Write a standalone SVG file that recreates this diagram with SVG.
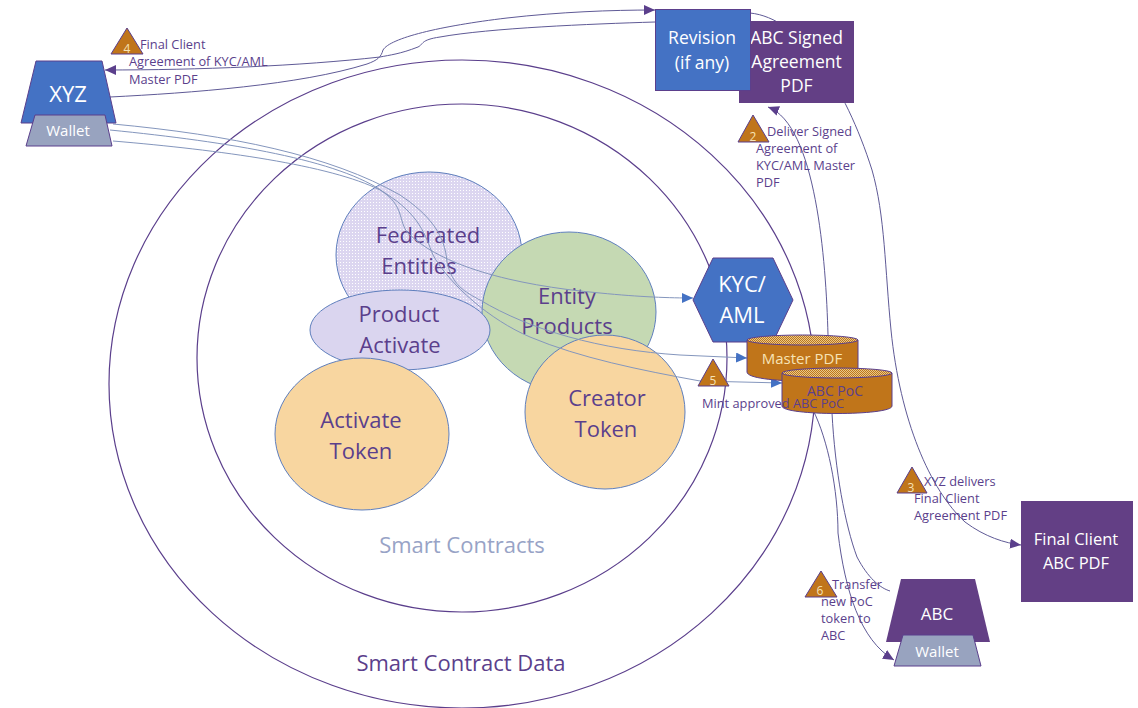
<svg xmlns="http://www.w3.org/2000/svg" width="1138" height="708" viewBox="0 0 1138 708">
<style>
text{font-family:"Open Sans","Noto Sans","Liberation Sans",sans-serif}
.ring{fill:none;stroke:#5b3f8c;stroke-width:1.2}
.c{fill:none;stroke:#5f5a96;stroke-width:1}
.w{fill:none;stroke:#8496bd;stroke-width:1}
.blob{stroke:#5f7fbd;stroke-width:1}
.big{font-size:22px;fill:#5b3f8c;text-anchor:middle}
.wht{font-size:19px;fill:#fff;text-anchor:middle}
.lab{font-size:12.800px;fill:#5b3f8c}
.num{font-size:12px;fill:#f7e3b5;text-anchor:middle}
.tri{fill:#c0751a;stroke:#5b3f8c;stroke-width:1}
.cyl{fill:#c0751a;stroke:#5b3f8c;stroke-width:1}
.wal{fill:#98a3bf;stroke:#5b3f8c;stroke-width:1}
</style>
<defs>
<pattern id="stip" width="3" height="3" patternUnits="userSpaceOnUse"><rect width="3" height="3" fill="#dcd6f0"/><rect x="1" y="1" width="1" height="1" fill="#fff"/></pattern>
<pattern id="chk" width="2" height="2" patternUnits="userSpaceOnUse"><rect width="2" height="2" fill="#e6c98a"/><rect width="1" height="1" fill="#c0751a"/><rect x="1" y="1" width="1" height="1" fill="#c0751a"/></pattern>
<marker id="ap" markerUnits="userSpaceOnUse" markerWidth="12" markerHeight="10" refX="11" refY="5" orient="auto"><path d="M0,0L11,5L0,10Z" fill="#5b3f8c"/></marker>
<marker id="ab" markerUnits="userSpaceOnUse" markerWidth="12" markerHeight="10" refX="11" refY="5" orient="auto"><path d="M0,0L11,5L0,10Z" fill="#4472c4"/></marker>
</defs>
<rect width="1138" height="708" fill="#fff"/>
<g id="smart-contract-data"><ellipse class="ring" cx="462" cy="384" rx="353" ry="324"/><text class="big" x="461" y="671">Smart Contract Data</text></g>
<g id="smart-contracts"><ellipse class="ring" cx="462" cy="358" rx="265" ry="254"/><text class="big" x="462" y="553" style="fill:#98a3c6">Smart Contracts</text></g>
<g id="federated-entities"><ellipse class="blob" cx="429" cy="255" rx="93" ry="83" fill="url(#stip)"/><text class="big"><tspan x="428" y="243">Federated</tspan><tspan x="419" y="274">Entities</tspan></text></g>
<g id="entity-products"><ellipse class="blob" cx="569" cy="312" rx="87" ry="80" fill="#c5d9b3"/><text class="big"><tspan x="567" y="304">Entity</tspan><tspan x="567" y="334">Products</tspan></text></g>
<g id="product-activate"><ellipse class="blob" cx="400" cy="330" rx="90" ry="40" fill="#dad5ef"/><text class="big"><tspan x="399" y="322">Product</tspan><tspan x="400" y="353">Activate</tspan></text></g>
<g id="activate-token"><ellipse class="blob" cx="362" cy="434" rx="87" ry="76" fill="#f8d6a0"/><text class="big"><tspan x="361" y="428">Activate</tspan><tspan x="361" y="459">Token</tspan></text></g>
<g id="creator-token"><ellipse class="blob" cx="605" cy="412" rx="80" ry="77" fill="#f8d6a0"/><text class="big"><tspan x="607" y="406">Creator</tspan><tspan x="606" y="437">Token</tspan></text></g>
<g id="connectors">
<path class="c" marker-end="url(#ap)" d="M110,97C190,93 300,85 367,64C378,60 381,57 383,50C390,38 440,26 507,18C560,12 610,10 655,10"/>
<path class="c" marker-end="url(#ap)" d="M655,22C590,24 490,28 440,37C420,40 424,44 418,47C400,54 390,55 380,57C300,66 200,70 105,70"/>
<path class="c" marker-end="url(#ap)" d="M750,13C800,18 845,85 872,170C885,215 885,270 891,330C900,420 930,490 965,522C985,537 1005,543 1021,545"/>
<path class="c" marker-end="url(#ap)" d="M828,335C826,260 816,125 768,107"/>
<path class="w" marker-end="url(#ab)" d="M113,141C220,150 330,165 380,190C405,205 398,222 408,233C440,265 510,285 600,293C640,297 670,298 693,298"/>
<path class="w" marker-end="url(#ab)" d="M113,124C230,135 330,155 400,195C430,215 445,235 447,262C452,285 465,292 480,300C530,330 600,350 680,355L747,358"/>
<path class="w" marker-end="url(#ab)" d="M110,130C230,142 340,160 385,193C420,215 425,235 433,255C450,285 490,320 530,337C580,358 640,370 700,381L782,383"/>
<path class="c" marker-end="url(#ap)" d="M813,410C828,440 838,490 838,533C845,590 860,640 894,660"/>
<path class="c" d="M832,413C835,470 845,525 857,557C868,578 880,588 890,591"/>
</g>
<g id="xyz"><path d="M36,61H102L116,123H21Z" fill="#4472c4" stroke="#5b3f8c"/><text class="wht" x="68" y="102" style="font-size:22px">XYZ</text></g>
<g id="xyz-wallet"><path class="wal" d="M35,115H105L112,146H26Z"/><text x="68" y="136" style="font-size:15px;fill:#fff;text-anchor:middle">Wallet</text></g>
<g id="abc-signed"><rect x="739" y="21" width="115" height="82" fill="#633f85"/><text class="wht" style="font-size:17.500px"><tspan x="796.500" y="44">ABC Signed</tspan><tspan x="796.500" y="68">Agreement</tspan><tspan x="796.500" y="92">PDF</tspan></text></g>
<g id="revision"><rect x="655.500" y="9.500" width="95" height="81" fill="#4472c4" stroke="#5b3f8c"/><text class="wht" style="font-size:17.500px"><tspan x="702" y="44">Revision</tspan><tspan x="702" y="69">(if any)</tspan></text></g>
<g id="kyc"><path d="M693,300L713,258H773L793,300L773,342H713Z" fill="#4472c4" stroke="#5b3f8c"/><text class="wht" style="font-size:22px"><tspan x="742" y="292">KYC/</tspan><tspan x="742" y="323">AML</tspan></text></g>
<g id="master-pdf"><path class="cyl" d="M747,340V372C747,384 858,384 858,372V340Z"/><ellipse cx="802.500" cy="340" rx="55.500" ry="5" fill="url(#chk)" stroke="#5b3f8c"/><text x="802" y="364" style="font-size:15px;fill:#f7e3b5;text-anchor:middle">Master PDF</text></g>
<g id="abc-poc"><path class="cyl" d="M782,373V406C782,416 892,416 892,406V373Z"/><ellipse cx="837" cy="373" rx="55" ry="5" fill="url(#chk)" stroke="#5b3f8c"/><text x="835" y="396" style="font-size:14px;fill:#5b3f8c;text-anchor:middle">ABC PoC</text></g>
<g id="final-client"><rect x="1021" y="501" width="112" height="101" fill="#633f85"/><text class="wht" style="font-size:16.500px"><tspan x="1076" y="545">Final Client</tspan><tspan x="1076" y="569">ABC PDF</tspan></text></g>
<g id="abc"><path d="M901,579H975L990,642H886Z" fill="#633f85"/><text class="wht" x="937" y="620" style="font-size:17px">ABC</text></g>
<g id="abc-wallet"><path class="wal" d="M903,635H973L981,666H894Z"/><text x="937" y="657" style="font-size:15px;fill:#fff;text-anchor:middle">Wallet</text></g>
<g id="step-4"><path class="tri" d="M127,28L143,54H111Z"/><text class="num" x="127" y="53">4</text><text class="lab"><tspan x="140" y="49">Final Client</tspan><tspan x="129" y="66">Agreement of KYC/AML</tspan><tspan x="129" y="84">Master PDF</tspan></text></g>
<g id="step-2"><path class="tri" d="M753,115L769,142H738Z"/><text class="num" x="753" y="141">2</text><text class="lab"><tspan x="767" y="136">Deliver Signed</tspan><tspan x="756" y="153">Agreement of</tspan><tspan x="756" y="170">KYC/AML Master</tspan><tspan x="756" y="187">PDF</tspan></text></g>
<g id="step-5"><path class="tri" d="M713,359L729,386H698Z"/><text class="num" x="713" y="385">5</text><text class="lab" x="702" y="408">Mint approved ABC PoC</text></g>
<g id="step-3"><path class="tri" d="M912,467L927,493H897Z"/><text class="num" x="911" y="492">3</text><text class="lab"><tspan x="924" y="486">XYZ delivers</tspan><tspan x="914" y="503">Final Client</tspan><tspan x="914" y="520">Agreement PDF</tspan></text></g>
<g id="step-6"><path class="tri" d="M821,571L837,597H805Z"/><text class="num" x="820" y="595">6</text><text class="lab"><tspan x="832" y="589">Transfer</tspan><tspan x="821" y="606">new PoC</tspan><tspan x="821" y="623">token to</tspan><tspan x="821" y="640">ABC</tspan></text></g>
</svg>
